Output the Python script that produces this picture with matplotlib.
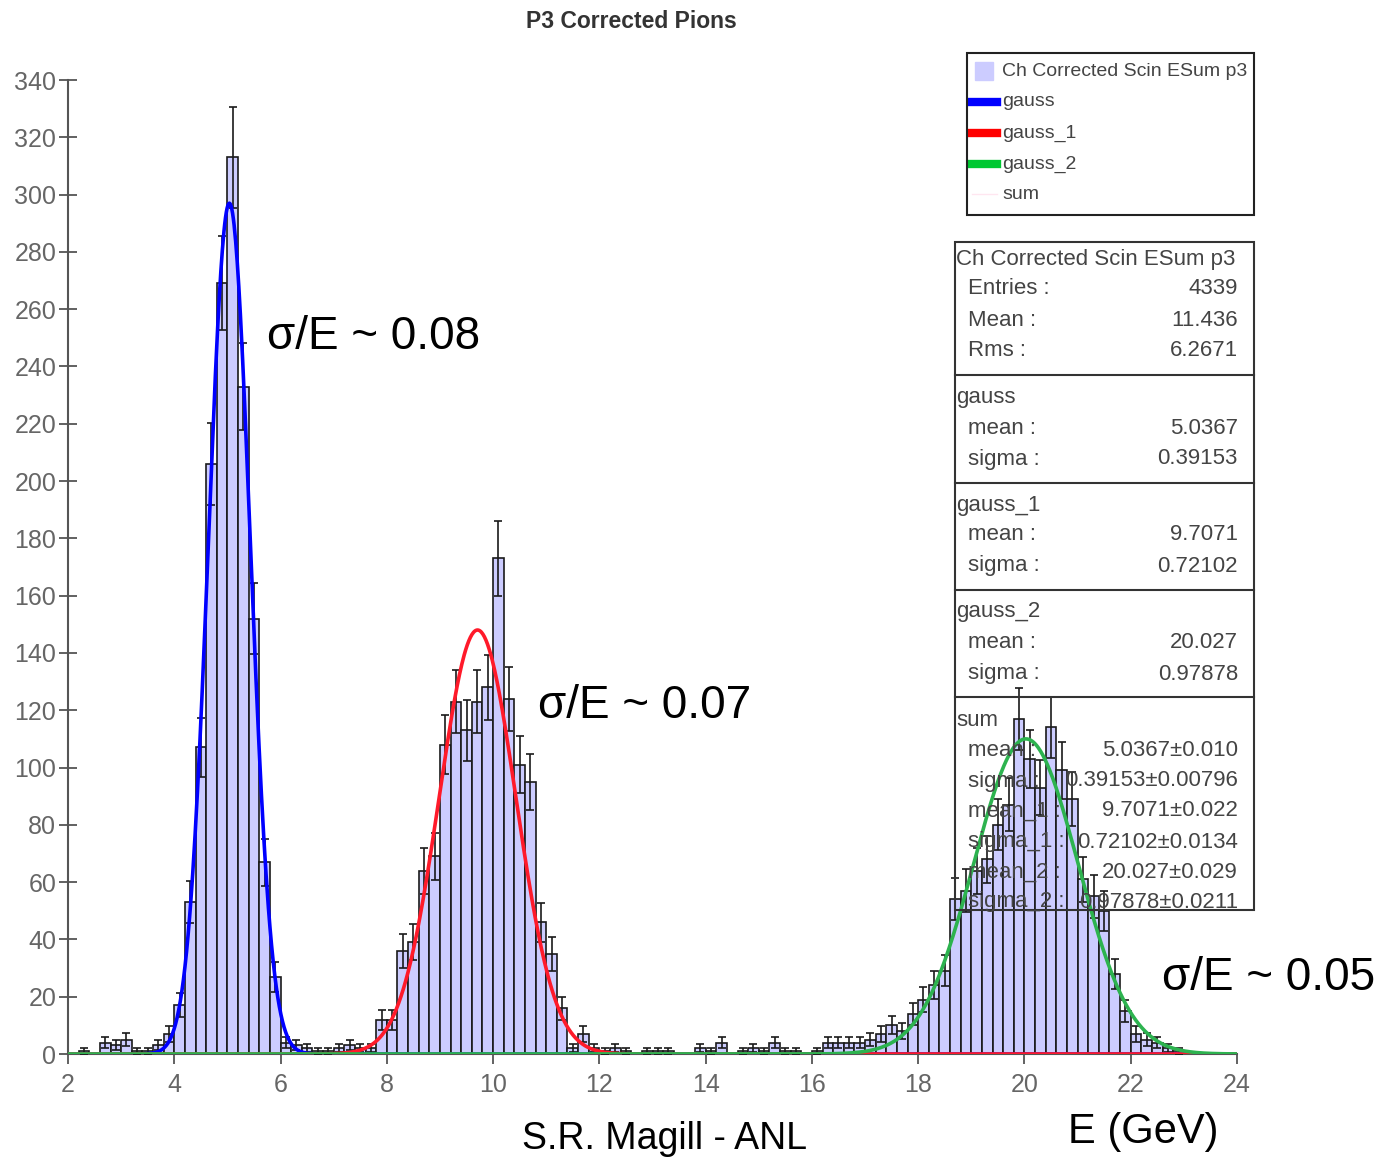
import numpy as np
import matplotlib.pyplot as plt
from matplotlib.patches import Rectangle
from matplotlib.lines import Line2D

plt.rcParams['font.family'] = ['Liberation Sans', 'DejaVu Sans']

W, H = 1389, 1159

# histogram: 0.2 GeV bins from 2 to 24
bin_lo = 2.0
bin_w = 0.2
counts = [0, 1, 0, 4, 3, 5, 1, 1, 3, 7,
          17, 53, 107, 206, 269, 313, 233, 152, 67, 27,
          4, 3, 2, 1, 1, 2, 3, 2, 2, 12,
          12, 36, 39, 64, 69, 108, 123, 113, 123, 128,
          173, 124, 101, 95, 46, 35, 16, 2, 7, 2,
          1, 2, 1, 0, 1, 1, 1, 0, 0, 2,
          1, 4, 0, 1, 2, 1, 4, 1, 1, 0,
          1, 4, 4, 4, 4, 5, 7, 10, 8, 14,
          19, 24, 29, 54, 57, 64, 68, 80, 87, 117,
          103, 93, 114, 99, 89, 61, 55, 50, 28, 15,
          7, 5, 4, 2, 1, 0, 0, 0, 0, 0]

# fit results (amplitudes)
fit_names = ['gauss', 'gauss_1', 'gauss_2']
fit_amp = [297, 148, 110]
fit_mean = [5.0367, 9.7071, 20.027]
fit_sigma = [0.39153, 0.72102, 0.97878]
fit_colors = ['#0000ff', '#ff1a2a', '#2db34f']
legend_colors = ['#0000ff', '#ff0000', '#00c832']

resolutions = ['\u03c3/E ~ 0.08', '\u03c3/E ~ 0.07', '\u03c3/E ~ 0.05']

stats_rows = [
    ('Ch Corrected Scin ESum p3', None, True),
    ('Entries :', '4339', False),
    ('Mean :', '11.436', False),
    ('Rms :', '6.2671', False),
    ('gauss', None, True),
    ('mean :', '5.0367', False),
    ('sigma :', '0.39153', False),
    ('gauss_1', None, True),
    ('mean :', '9.7071', False),
    ('sigma :', '0.72102', False),
    ('gauss_2', None, True),
    ('mean :', '20.027', False),
    ('sigma :', '0.97878', False),
    ('sum', None, True),
    ('mean :', '5.0367\u00b10.010', False),
    ('sigma :', '0.39153\u00b10.00796', False),
    ('mean_1 :', '9.7071\u00b10.022', False),
    ('sigma_1 :', '0.72102\u00b10.0134', False),
    ('mean_2 :', '20.027\u00b10.029', False),
    ('sigma_2 :', '0.97878\u00b10.0211', False),
]


def fx(px):
    return px / W


def fy(py):
    return 1 - py / H


counts = np.array(counts, dtype=float)
edges = bin_lo + bin_w * np.arange(len(counts) + 1)
centers = edges[:-1] + bin_w / 2
filled = counts > 0

fig = plt.figure(figsize=(W / 100, H / 100), dpi=100)
ax = fig.add_axes([fx(68), fy(1054), fx(1237 - 68), (1054 - 80) / H])

ax.bar(edges[:-1][filled], counts[filled], width=bin_w, align='edge',
       color='#ccccff', edgecolor='#1a1a1a', linewidth=1.2, zorder=2)
ax.errorbar(centers[filled], counts[filled], yerr=np.sqrt(counts[filled]),
            fmt='none', ecolor='#1a1a1a', elinewidth=1.2, capsize=3,
            capthick=1.2, zorder=3)

xs = np.linspace(2, 24, 1500)
curves = []
for a, m, s in zip(fit_amp, fit_mean, fit_sigma):
    curves.append(a * np.exp(-0.5 * ((xs - m) / s) ** 2))
ax.plot(xs, sum(curves), color='#ffd6e6', lw=1, zorder=4)
for c, col in zip(curves, fit_colors):
    ax.plot(xs, c, color=col, lw=2.6, zorder=5)

ax.set_xlim(2, 24)
ax.set_ylim(0, 340)
ax.set_xticks(np.arange(2, 25, 2))
ax.set_yticks(np.arange(0, 341, 20))
for side in ['top', 'right']:
    ax.spines[side].set_visible(False)
for side in ['left', 'bottom']:
    ax.spines[side].set_color('#555555')
    ax.spines[side].set_linewidth(1.5)
ax.tick_params(axis='y', direction='inout', length=13, width=1.3,
               color='#555555', labelcolor='#666666', labelsize=18, pad=2)
ax.tick_params(axis='x', direction='out', length=7, width=1.3,
               color='#555555', labelcolor='#666666', labelsize=18, pad=7)

# title and annotations
fig.text(fx(631), fy(21), 'P3 Corrected Pions', ha='center', va='center',
         fontsize=16.5, fontweight='bold', color='#333333')
for txt, (px, py) in zip(resolutions, [(267, 349), (538, 718), (1162, 990)]):
    fig.text(fx(px), fy(py), txt, fontsize=33, va='baseline', color='black')
fig.text(fx(522), fy(1149), 'S.R. Magill - ANL', fontsize=27,
         va='baseline', color='black')
fig.text(fx(1068), fy(1143), 'E (GeV)', fontsize=30, va='baseline',
         color='black')

# legend box
fig.patches.append(Rectangle((fx(967), fy(215)), fx(1254 - 967),
                             (215 - 53) / H, transform=fig.transFigure,
                             fill=False, edgecolor='#222222', lw=1.5,
                             zorder=10))
leg_labels = ['Ch Corrected Scin ESum p3'] + fit_names + ['sum']
leg_y = [71, 102, 133, 164, 194]
fig.patches.append(Rectangle((fx(975), fy(80)), fx(18), 18 / H,
                             transform=fig.transFigure, color='#ccccff',
                             zorder=10))
for yy, col in zip(leg_y[1:4], legend_colors):
    fig.lines.append(Line2D([fx(972), fx(997)], [fy(yy), fy(yy)],
                            transform=fig.transFigure, color=col, lw=6,
                            zorder=10))
fig.lines.append(Line2D([fx(972), fx(997)], [fy(194), fy(194)],
                        transform=fig.transFigure, color='#ffe6f0', lw=1,
                        zorder=10))
for yy, lab in zip(leg_y, leg_labels):
    fig.text(fx(1002), fy(yy), lab, fontsize=14, va='center',
             color='#444444', zorder=11)

# stats box
fig.patches.append(Rectangle((fx(955), fy(910)), fx(1254 - 955),
                             (910 - 242) / H, transform=fig.transFigure,
                             fill=False, edgecolor='#333333', lw=1.5,
                             zorder=10))
for yy in [375, 483, 590, 697]:
    fig.lines.append(Line2D([fx(955), fx(1254)], [fy(yy), fy(yy)],
                            transform=fig.transFigure, color='#333333',
                            lw=1.5, zorder=10))
row_y = [259, 289, 320, 351, 397, 428, 459, 505, 535, 566,
         612, 643, 674, 720, 750, 781, 811, 842, 872, 902]
for yy, (lab, val, header) in zip(row_y, stats_rows):
    fig.text(fx(956 if header else 968), fy(yy), lab, fontsize=16,
             va='center', color='#444444', zorder=11)
    if val is not None:
        fig.text(fx(1238), fy(yy), val, fontsize=16, va='center',
                 ha='right', color='#444444', zorder=11)

fig.savefig('out.png', dpi=100)
